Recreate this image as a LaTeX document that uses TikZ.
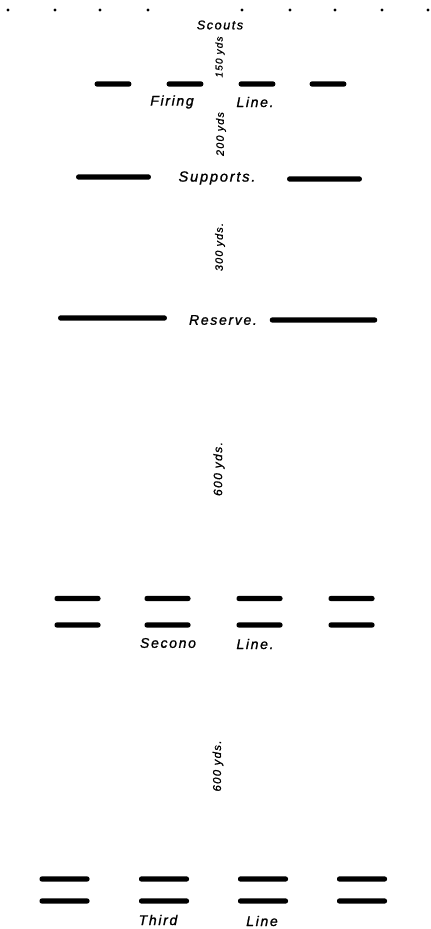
\documentclass[tikz,border=0pt]{standalone}
\usepackage{fontspec}
\newfontfamily\handfont[LetterSpace=12,FakeBold=1.2]{Liberation Sans}
\usetikzlibrary{positioning}

\begin{document}
\begin{tikzpicture}[x=0.75pt,y=-0.75pt,
  bar/.style={fill=black,rounded corners=1.6pt,inner sep=0pt,minimum height=3.8pt},
  scout/.style={circle,fill=black,inner sep=0pt,minimum size=2.6pt},
  lbl/.style={font=\handfont\itshape\fontsize{10.5}{12}\selectfont,inner sep=1pt},
  dist/.style={font=\handfont\itshape\fontsize{8}{9}\selectfont,rotate=90,inner sep=1pt}]
  \useasboundingbox (0,0) rectangle (431,929);
  % scouts
  \foreach \i/\x in {1/8,2/55,3/100,4/148,5/242,6/290,7/335,8/382,9/428}
    \node[scout] (sc\i) at (\x,10) {};
  \node[lbl,font=\handfont\itshape\fontsize{9.5}{11}\selectfont] (scouts) at (220,25) {Scouts};
  \node[dist,font=\handfont\itshape\fontsize{7.5}{9}\selectfont] (d150) at (220,57) {150 yds};
  % firing line
  \foreach \i/\x in {1/113,2/185,3/257,4/328}
    \node[bar,minimum width=27.5pt] (fl\i) at (\x,84) {};
  \node[lbl] (firing) at (172,102) {Firing};
  \node[lbl] (flline) at (255,102) {Line.};
  \node[dist] (d200) at (221,134) {200 yds};
  % supports
  \node[bar,minimum width=56pt] (sup1) at (113.5,177) {};
  \node[bar,minimum width=56pt] (sup2) at (324.5,179) {};
  \node[lbl,font=\handfont\itshape\fontsize{11}{13}\selectfont] (supports) at (217,178) {Supports.};
  \node[dist] (d300) at (220,247) {300 yds.};
  % reserve
  \node[bar,minimum width=81.5pt] (res1) at (112.5,318) {};
  \node[bar,minimum width=80.5pt] (res2) at (323.5,320) {};
  \node[lbl] (reserve) at (223,320) {Reserve.};
  \node[dist,font=\handfont\itshape\fontsize{9}{10}\selectfont] (d600a) at (219,469) {600 yds.};
  % second line
  \foreach \i/\x in {1/77.5,2/167.5,3/259.5,4/351.5}{
    \node[bar,minimum width=34.5pt] (sa\i) at (\x,598.5) {};
    \node[bar,minimum width=34.5pt] (sb\i) at (\x,625) {};
  }
  \node[lbl] (second) at (168,643) {Secono};
  \node[lbl] (slline) at (255,644) {Line.};
  \node[dist,font=\handfont\itshape\fontsize{8.5}{10}\selectfont] (d600b) at (218,766) {600 yds.};
  % third line
  \foreach \i/\x in {1/64.5,2/164,3/263,4/362}{
    \node[bar,minimum width=37.5pt] (ta\i) at (\x,879) {};
    \node[bar,minimum width=37.5pt] (tb\i) at (\x,901) {};
  }
  \node[lbl] (third) at (158,920) {Third};
  \node[lbl] (tlline) at (262,921) {Line};
\end{tikzpicture}
\end{document}
